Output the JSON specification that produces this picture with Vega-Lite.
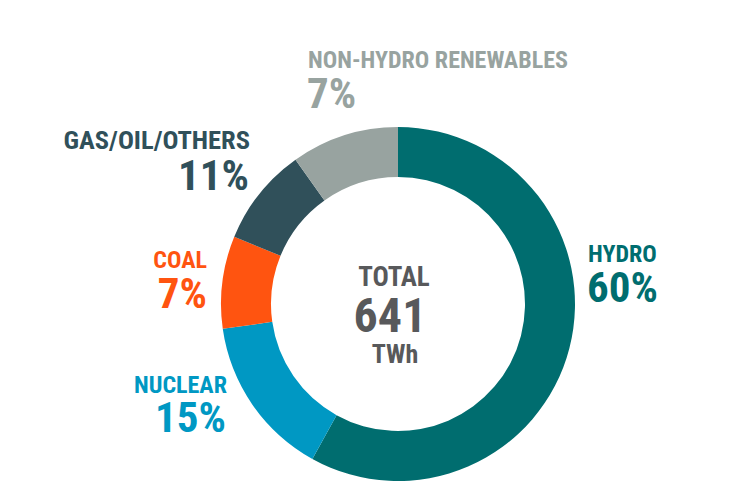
{
  "$schema": "https://vega.github.io/schema/vega-lite/v6.json",
  "width": 354,
  "height": 354,
  "autosize": {"type": "none"},
  "padding": {"left": 221, "top": 127, "right": 176, "bottom": 11},
  "background": "white",
  "config": {
    "view": {"stroke": null},
    "text": {"font": "Liberation Sans Narrow, Roboto Condensed, DejaVu Sans Condensed, Arial Narrow, sans-serif", "fontWeight": "bold", "baseline": "alphabetic"}
  },
  "datasets": {
    "mix": [
      {"idx": 1, "source": "HYDRO", "share": 58.03, "pct": "60%"},
      {"idx": 2, "source": "NUCLEAR", "share": 14.72, "pct": "15%"},
      {"idx": 3, "source": "COAL", "share": 8.44, "pct": "7%"},
      {"idx": 4, "source": "GAS/OIL/OTHERS", "share": 8.97, "pct": "11%"},
      {"idx": 5, "source": "NON-HYDRO RENEWABLES", "share": 9.83, "pct": "7%"}
    ],
    "center": [
      {"line": "TOTAL"},
      {"line": "641"},
      {"line": "TWh"}
    ]
  },
  "layer": [
    {
      "data": {"name": "mix"},
      "encoding": {
        "theta": {"field": "share", "type": "quantitative", "stack": true},
        "order": {"field": "idx", "type": "quantitative"},
        "color": {
          "field": "source",
          "type": "nominal",
          "scale": {
            "domain": ["HYDRO", "NUCLEAR", "COAL", "GAS/OIL/OTHERS", "NON-HYDRO RENEWABLES"],
            "range": ["#006d6f", "#0098c3", "#ff5410", "#30505a", "#98a3a0"]
          },
          "legend": null
        }
      },
      "layer": [
        {"mark": {"type": "arc", "outerRadius": 177, "innerRadius": 127}},
        {"mark": {"type": "text", "radius": 190, "align": "left", "dx": 6, "dy": -89.4, "fontSize": 24},
         "encoding": {"text": {"condition": {"test": "datum.source === 'HYDRO'", "field": "source"}, "value": ""}}},
        {"mark": {"type": "text", "radius": 190, "align": "left", "dx": 5, "dy": -49.4, "fontSize": 43},
         "encoding": {"text": {"condition": {"test": "datum.source === 'HYDRO'", "field": "pct"}, "value": ""}}},
        {"mark": {"type": "text", "radius": 190, "align": "right", "dx": -14.6, "dy": -18.9, "fontSize": 24},
         "encoding": {"text": {"condition": {"test": "datum.source === 'NUCLEAR'", "field": "source"}, "value": ""}}},
        {"mark": {"type": "text", "radius": 190, "align": "right", "dx": -15.6, "dy": 20.1, "fontSize": 43},
         "encoding": {"text": {"condition": {"test": "datum.source === 'NUCLEAR'", "field": "pct"}, "value": ""}}},
        {"mark": {"type": "text", "radius": 190, "align": "right", "dx": -2.5, "dy": -12.5, "fontSize": 24},
         "encoding": {"text": {"condition": {"test": "datum.source === 'COAL'", "field": "source"}, "value": ""}}},
        {"mark": {"type": "text", "radius": 190, "align": "right", "dx": -2.5, "dy": 27.5, "fontSize": 43},
         "encoding": {"text": {"condition": {"test": "datum.source === 'COAL'", "field": "pct"}, "value": ""}}},
        {"mark": {"type": "text", "radius": 190, "align": "right", "dx": 0.8, "dy": -36.8, "fontSize": 26.5},
         "encoding": {"text": {"condition": {"test": "datum.source === 'GAS/OIL/OTHERS'", "field": "source"}, "value": ""}}},
        {"mark": {"type": "text", "radius": 190, "align": "right", "dx": -0.2, "dy": 4.2, "fontSize": 43},
         "encoding": {"text": {"condition": {"test": "datum.source === 'GAS/OIL/OTHERS'", "field": "pct"}, "value": ""}}},
        {"mark": {"type": "text", "radius": 190, "align": "left", "dx": -32.2, "dy": -55, "fontSize": 24},
         "encoding": {"text": {"condition": {"test": "datum.source === 'NON-HYDRO RENEWABLES'", "field": "source"}, "value": ""}}},
        {"mark": {"type": "text", "radius": 190, "align": "left", "dx": -33.2, "dy": -15, "fontSize": 43},
         "encoding": {"text": {"condition": {"test": "datum.source === 'NON-HYDRO RENEWABLES'", "field": "pct"}, "value": ""}}}
      ]
    },
    {
      "data": {"name": "center"},
      "transform": [{"filter": "datum.line === 'TOTAL'"}],
      "mark": {"type": "text", "align": "center", "dx": -4, "dy": -18, "fontSize": 27, "color": "#58595b"},
      "encoding": {"text": {"field": "line"}}
    },
    {
      "data": {"name": "center"},
      "transform": [{"filter": "datum.line === '641'"}],
      "mark": {"type": "text", "align": "center", "dx": -8, "dy": 28, "fontSize": 48, "color": "#58595b"},
      "encoding": {"text": {"field": "line"}}
    },
    {
      "data": {"name": "center"},
      "transform": [{"filter": "datum.line === 'TWh'"}],
      "mark": {"type": "text", "align": "center", "dx": -3, "dy": 59, "fontSize": 26, "color": "#58595b"},
      "encoding": {"text": {"field": "line"}}
    }
  ]
}
